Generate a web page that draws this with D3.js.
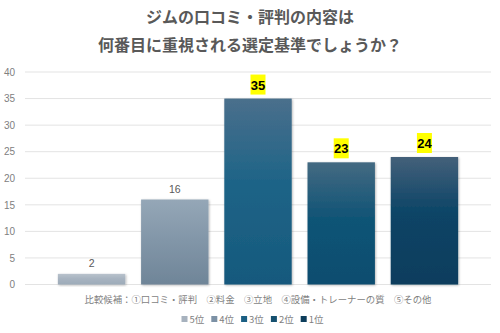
<!DOCTYPE html>
<html>
<head>
<meta charset="utf-8">
<script src="https://cdn.jsdelivr.net/npm/d3@7"></script>
<style>
  body { margin: 0; background: #fff; }
  text { font-family: "Noto Sans CJK JP", "Noto Sans", sans-serif; }
</style>
</head>
<body>
<div id="chart"></div>
<script>
const titleLines = ['ジムの口コミ・評判の内容は', '何番目に重視される選定基準でしょうか？'];
const category = '比較候補：①口コミ・評判　②料金　③立地　④設備・トレーナーの質　⑤その他';
const seriesNames = ['5位', '4位', '3位', '2位', '1位'];
const seriesValues = [2, 16, 35, 23, 24];
const highlighted = ['3位', '2位', '1位'];
const yTicks = [0, 5, 10, 15, 20, 25, 30, 35, 40];

// colours: [top, middle, bottom of gradient, legend swatch]
const colors = {
  '5位': ['#b8c2cc', '#a7b3c0', '#9dabb9', '#a7b2be'],
  '4位': ['#95a7b7', '#8397a9', '#6f8598', '#7c91a5'],
  '3位': ['#4a6f8c', '#1e6487', '#16597d', '#1b5f83'],
  '2位': ['#446a82', '#115476', '#0e4d6f', '#15506f'],
  '1位': ['#44607a', '#0a4466', '#083d5d', '#0d3d5b']
};

const W = 500, H = 333;
const plot = {left: 25, right: 491, top: 72, bottom: 284.5};

const svg = d3.select('#chart')
    .append('svg')
    .attr('width', W)
    .attr('height', H);

const defs = svg.append('defs');
seriesNames.forEach((s, i) => {
    const g = defs.append('linearGradient')
        .attr('id', 'grad' + i)
        .attr('x1', 0).attr('y1', 0).attr('x2', 0).attr('y2', 1);
    g.append('stop').attr('offset', '0%').attr('stop-color', colors[s][0]);
    g.append('stop').attr('offset', '45%').attr('stop-color', colors[s][1]);
    g.append('stop').attr('offset', '100%').attr('stop-color', colors[s][2]);
});
defs.append('filter')
    .attr('id', 'shadow')
    .attr('x', '-10%').attr('y', '-10%').attr('width', '130%').attr('height', '130%')
    .append('feDropShadow')
    .attr('dx', 0.8).attr('dy', 0.8)
    .attr('stdDeviation', 0.8)
    .attr('flood-color', '#000')
    .attr('flood-opacity', 0.3);

// title
svg.selectAll('.title')
    .data(titleLines)
    .enter()
    .append('text')
    .attr('x', W / 2)
    .attr('y', (d, i) => 23 + i * 28)
    .attr('text-anchor', 'middle')
    .attr('font-size', 16)
    .attr('font-weight', 'bold')
    .attr('fill', '#595959')
    .text(d => d);

const x0 = d3.scaleBand()
    .domain([category])
    .range([plot.left, plot.right])
    .paddingOuter(0.06);

const x1 = d3.scaleBand()
    .domain(seriesNames)
    .range([x0(category), x0(category) + x0.bandwidth()])
    .paddingInner(0.19)
    .paddingOuter(0.095);

const y = d3.scaleLinear()
    .domain([0, 40])
    .range([plot.bottom, plot.top]);

// gridlines
svg.append('g')
    .selectAll('line')
    .data(yTicks)
    .enter()
    .append('line')
    .attr('x1', plot.left)
    .attr('x2', plot.right)
    .attr('y1', d => y(d))
    .attr('y2', d => y(d))
    .attr('stroke', '#e3e3e3')
    .attr('stroke-width', 1);

// y axis labels
const yAxis = d3.axisLeft(y).tickValues(yTicks).tickSize(0).tickPadding(0);
const yg = svg.append('g')
    .attr('transform', 'translate(15,0)')
    .call(yAxis);
yg.select('.domain').remove();
yg.selectAll('text')
    .attr('font-size', 10)
    .attr('fill', '#808080')
    .style('font-family', '"Liberation Sans Narrow", "Liberation Sans", sans-serif');

// bars
svg.append('g')
    .selectAll('rect')
    .data(seriesNames)
    .enter()
    .append('rect')
    .attr('x', d => x1(d))
    .attr('width', x1.bandwidth())
    .attr('y', (d, i) => y(seriesValues[i]))
    .attr('height', (d, i) => y(0) - y(seriesValues[i]))
    .attr('fill', (d, i) => `url(#grad${i})`)
    .attr('filter', 'url(#shadow)');

// data labels
const labels = svg.append('g')
    .selectAll('g')
    .data(seriesNames)
    .enter()
    .append('g')
    .attr('transform', (d, i) => `translate(${x1(d) + x1.bandwidth() / 2},${y(seriesValues[i])})`);

labels.filter(d => highlighted.includes(d))
    .append('rect')
    .attr('x', -7.5)
    .attr('y', -24)
    .attr('width', 15)
    .attr('height', 20)
    .attr('fill', '#ffff00');

labels.append('text')
    .attr('text-anchor', 'middle')
    .attr('y', d => highlighted.includes(d) ? -9 : -7)
    .attr('font-size', d => highlighted.includes(d) ? 13 : 10.5)
    .attr('font-weight', d => highlighted.includes(d) ? 'bold' : 'normal')
    .attr('fill', d => highlighted.includes(d) ? '#000' : '#595959')
    .style('font-family', '"Liberation Sans Narrow", "Liberation Sans", sans-serif')
    .text((d, i) => seriesValues[i]);

// category label
svg.append('text')
    .attr('x', x0(category) + x0.bandwidth() / 2)
    .attr('y', 303)
    .attr('text-anchor', 'middle')
    .attr('font-size', 9.4)
    .attr('fill', '#7f7f7f')
    .text(category);

// legend
const legend = svg.append('g')
    .selectAll('g')
    .data(seriesNames)
    .enter()
    .append('g')
    .attr('transform', (d, i) => `translate(${181.5 + i * 29.8},319)`);

legend.append('rect')
    .attr('x', 0)
    .attr('y', -3)
    .attr('width', 6)
    .attr('height', 6)
    .attr('fill', d => colors[d][3]);

legend.append('text')
    .attr('x', 8)
    .attr('y', 3.5)
    .attr('font-size', 9.5)
    .attr('fill', '#7f7f7f')
    .text(d => d);
</script>
</body>
</html>
